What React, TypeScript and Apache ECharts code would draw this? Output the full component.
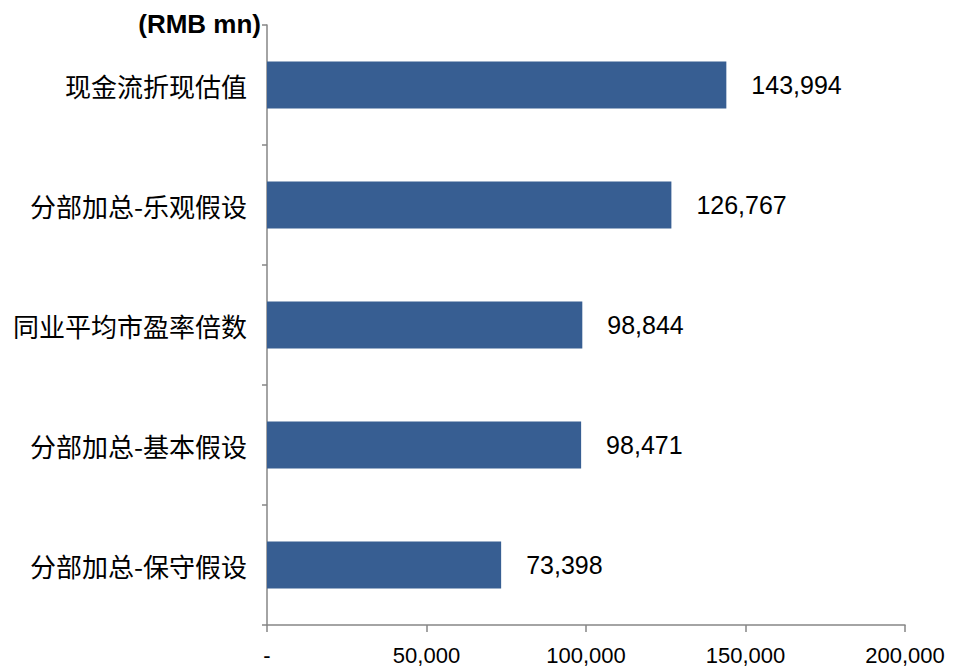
import React, { useEffect, useRef } from "react";
import * as echarts from "echarts";

const categories = [
  "现金流折现估值",
  "分部加总-乐观假设",
  "同业平均市盈率倍数",
  "分部加总-基本假设",
  "分部加总-保守假设",
];
const values = [143994, 126767, 98844, 98471, 73398];
const xTicks = [0, 50000, 100000, 150000, 200000];
const unitLabel = "(RMB mn)";

const fmt = (v: number) => (v === 0 ? "-" : v.toLocaleString("en-US"));

export default function App() {
  const ref = useRef<HTMLDivElement>(null);
  useEffect(() => {
    if (!ref.current) return;
    const chart = echarts.init(ref.current, null, { renderer: "svg" });
    chart.setOption({
      animation: false,
      backgroundColor: "#ffffff",
      grid: { left: 267, right: 49, top: 25, bottom: 41, containLabel: false },
      xAxis: {
        type: "value",
        min: xTicks[0],
        max: xTicks[xTicks.length - 1],
        interval: xTicks[1] - xTicks[0],
        splitLine: { show: false },
        axisLine: { show: true, lineStyle: { color: "#868686", width: 1.5 } },
        axisTick: { show: true, length: 7, lineStyle: { color: "#868686", width: 1.5 } },
        axisLabel: {
          formatter: (v: number) => fmt(v),
          color: "#000",
          fontFamily: "Liberation Sans, Arial, sans-serif",
          fontSize: 22,
          margin: 19,
        },
      },
      yAxis: {
        type: "category",
        data: categories,
        inverse: true,
        axisLine: { show: true, lineStyle: { color: "#868686", width: 1.5 } },
        axisTick: { show: true, inside: false, length: 5, alignWithLabel: false, lineStyle: { color: "#868686", width: 1.5 } },
        axisLabel: {
          color: "#000",
          fontFamily: "Noto Sans CJK SC, sans-serif",
          fontSize: 26,
          margin: 20,
        },
        splitLine: { show: false },
      },
      graphic: [
        {
          type: "text",
          right: 954 - 261,
          top: 11,
          style: {
            text: unitLabel,
            fill: "#000",
            font: "bold 26px 'Liberation Sans', Arial, sans-serif",
            textAlign: "right",
          },
        },
      ],
      series: [
        {
          type: "bar",
          data: values,
          barWidth: 47,
          itemStyle: { color: "#375E92" },
          label: {
            show: true,
            position: "right",
            distance: 25,
            color: "#000",
            fontFamily: "Liberation Sans, Arial, sans-serif",
            fontSize: 25,
            formatter: (p: any) => fmt(p.value),
          },
        },
      ],
    });
    return () => chart.dispose();
  }, []);
  return (
    <div
      ref={ref}
      style={{ position: "fixed", left: 0, top: 0, width: 954, height: 666, background: "#fff" }}
    />
  );
}
